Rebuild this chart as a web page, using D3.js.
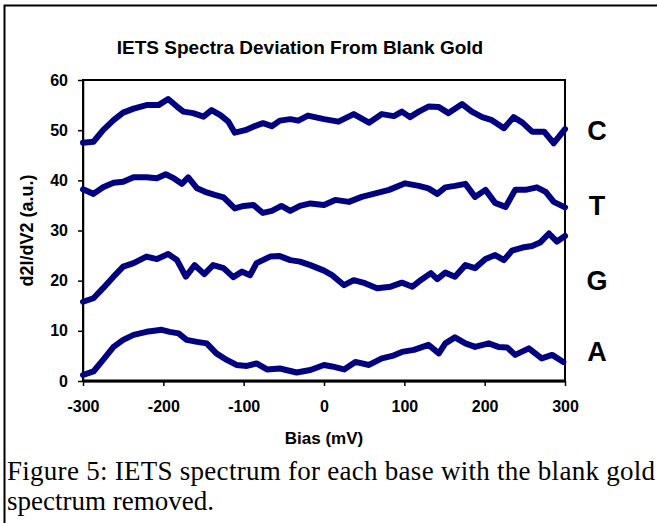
<!DOCTYPE html>
<html lang="en">
<head>
<meta charset="UTF-8">
<title>IETS Spectra</title>
<script src="https://cdn.jsdelivr.net/npm/d3@7"></script>
<style>
body {
	margin: 0;
	background: #fff;
}
svg {
	display: block;
}
.axis text {
	font-family: "Liberation Sans", Arial, sans-serif;
	font-weight: bold;
	font-size: 16px;
	fill: #000;
}
.axis line, .axis path {
	stroke: #000;
	stroke-width: 1.5px;
}
.curve {
	fill: none;
	stroke: #000080;
	stroke-width: 6px;
	stroke-linejoin: round;
	stroke-linecap: round;
}
.bold {
	font-family: "Liberation Sans", Arial, sans-serif;
	font-weight: bold;
}
.caption {
	font-family: "Liberation Serif", "Times New Roman", serif;
	font-size: 27px;
}
</style>
</head>
<body>
<svg width="657" height="523"></svg>
<script>
// values: [bias (mV), d2I/dV2 (a.u.)]
var curveC = [[-300,47.5],[-287,47.7],[-275,50.0],[-262,52.0],[-250,53.5],[-237,54.3],[-221,55.0],[-206,55.0],[-194,56.2],[-183,54.7],
	[-175,53.7],[-163,53.4],[-150,52.7],[-140,54.0],[-129,53.0],[-119,51.7],[-111,49.5],[-98,50.0],[-88,50.7],[-76,51.4],
	[-65,50.8],[-55,51.9],[-42,52.2],[-32,51.9],[-20,52.9],[0,52.2],[18,51.7],[37,53.2],[56,51.5],[72,53.2],
	[87,52.8],[97,53.7],[107,52.6],[118,53.7],[130,54.7],[143,54.6],[155,53.4],[172,55.2],[184,53.7],[197,52.6],
	[209,52.0],[224,50.4],[236,52.6],[247,51.5],[259,49.7],[274,49.7],[286,47.4],[300,50.2]];

var curveT = [[-300,38.2],[-287,37.3],[-275,38.6],[-262,39.5],[-250,39.7],[-237,40.6],[-221,40.6],[-208,40.4],[-197,41.2],[-188,40.5],
	[-177,39.3],[-169,40.6],[-158,38.4],[-148,37.7],[-136,37.1],[-125,36.6],[-111,34.4],[-100,34.9],[-88,35.1],[-76,33.5],
	[-65,33.9],[-53,34.9],[-42,33.9],[-30,34.9],[-17,35.4],[0,35.1],[14,36.1],[31,35.7],[47,36.7],[64,37.4],
	[81,38.1],[101,39.4],[118,38.9],[130,38.4],[141,37.3],[151,38.6],[163,38.9],[176,39.3],[188,36.7],[201,38.1],
	[213,35.5],[226,34.7],[238,38.1],[251,38.1],[265,38.6],[276,37.7],[286,35.7],[300,34.6]];

var curveG = [[-300,15.8],[-287,16.5],[-275,18.5],[-262,20.8],[-250,22.8],[-237,23.5],[-221,24.8],[-208,24.3],[-194,25.3],[-183,24.1],
	[-172,20.8],[-161,23.1],[-149,21.3],[-138,23.1],[-125,22.5],[-113,20.7],[-102,21.8],[-92,21.1],[-84,23.5],[-67,24.8],
	[-55,24.9],[-42,24.1],[-30,23.8],[-17,23.1],[0,22.0],[10,21.1],[25,19.1],[37,20.1],[51,19.5],[66,18.5],
	[83,18.8],[97,19.6],[110,18.8],[122,20.3],[133,21.5],[141,20.3],[151,21.6],[163,20.8],[176,23.1],[188,22.5],
	[201,24.3],[213,25.1],[224,24.1],[234,26.0],[247,26.6],[259,26.9],[269,27.6],[280,29.4],[290,27.8],[300,28.9]];

var curveA = [[-300,1.2],[-287,1.9],[-275,4.2],[-262,6.8],[-250,8.2],[-237,9.2],[-221,9.8],[-202,10.2],[-192,9.8],[-181,9.5],
	[-171,8.2],[-158,7.8],[-146,7.5],[-134,5.5],[-121,4.2],[-109,3.2],[-96,3.0],[-84,3.5],[-71,2.3],[-55,2.5],
	[-34,1.7],[-17,2.2],[0,3.2],[10,2.9],[25,2.3],[39,3.8],[56,3.2],[72,4.5],[85,5.0],[97,5.8],
	[112,6.2],[130,7.2],[143,5.5],[151,7.5],[163,8.7],[176,7.5],[188,6.8],[205,7.5],[217,6.8],[228,6.7],
	[238,5.2],[255,6.5],[271,4.5],[284,5.2],[298,3.8]];

var bases = ["C", "T", "G", "A"];
var baseLevels = [50, 35, 20, 6];
var xTicks = [-300, -200, -100, 0, 100, 200, 300];
var yTicks = [0, 10, 20, 30, 40, 50, 60];
var title = "IETS Spectra Deviation From Blank Gold";
var xTitle = "Bias (mV)";
var yTitle = "d2I/dV2 (a.u.)";
var captionLines = ["Figure 5: IETS spectrum for each base with the blank gold", "spectrum removed."];

var svg = d3.select("svg"),
	margin = {top: 80, right: 92, bottom: 142, left: 83},
	width = +svg.attr("width") - margin.left - margin.right,
	height = +svg.attr("height") - margin.top - margin.bottom;

// page frame (left and top edges of the figure box)
svg.append("path")
	.attr("d", "M4.5,523V5.5H657")
	.attr("fill", "none")
	.attr("stroke", "#000")
	.attr("stroke-width", 2);

var x = d3.scaleLinear().domain([-300, 300]).range([0, width]);
var y = d3.scaleLinear().domain([0, 60]).range([height, 0]);

var g = svg.append("g").attr("transform", "translate(" + margin.left + "," + margin.top + ")");

svg.append("text")
	.attr("class", "bold")
	.attr("x", 300)
	.attr("y", 54)
	.attr("text-anchor", "middle")
	.style("font-size", "19px")
	.text(title);

// plain hyphen minus like the original
var fmt = function(d) { return String(d); };

g.append("g")
	.attr("class", "axis axis--x")
	.attr("transform", "translate(0," + height + ")")
	.call(d3.axisBottom(x).tickValues(xTicks).tickFormat(fmt).tickSize(5).tickPadding(15).tickSizeOuter(0));

g.append("g")
	.attr("class", "axis axis--y")
	.call(d3.axisLeft(y).tickValues(yTicks).tickFormat(fmt).tickSize(5).tickPadding(10).tickSizeOuter(0));

// plot area border
g.append("rect")
	.attr("width", width)
	.attr("height", height)
	.attr("fill", "none")
	.attr("stroke", "#000")
	.attr("stroke-width", 2);
g.append("line")
	.attr("x1", 0).attr("x2", width)
	.attr("y1", height).attr("y2", height)
	.attr("stroke", "#000")
	.attr("stroke-width", 3);

var line = d3.line()
	.x(function(d) { return x(d[0]); })
	.y(function(d) { return y(d[1]); });

[curveC, curveT, curveG, curveA].forEach(function(c) {
	g.append("path")
		.datum(c)
		.attr("class", "curve")
		.attr("d", line);
});

g.selectAll(".base")
	.data(bases)
	.enter().append("text")
	.attr("class", "bold base")
	.attr("x", width + 32)
	.attr("y", function(d, i) { return y(baseLevels[i]); })
	.attr("dy", "0.36em")
	.attr("text-anchor", "middle")
	.style("font-size", "27px")
	.text(function(d) { return d; });

svg.append("text")
	.attr("class", "bold")
	.attr("x", margin.left + width / 2)
	.attr("y", 444)
	.attr("text-anchor", "middle")
	.style("font-size", "17px")
	.text(xTitle);

svg.append("text")
	.attr("class", "bold")
	.attr("transform", "translate(33," + (margin.top + height / 2) + ") rotate(-90)")
	.attr("text-anchor", "middle")
	.style("font-size", "18px")
	.text(yTitle);

svg.append("text")
	.attr("class", "caption")
	.attr("x", 7)
	.attr("y", 480)
	.attr("textLength", 648)
	.attr("lengthAdjust", "spacing")
	.text(captionLines[0]);

svg.append("text")
	.attr("class", "caption")
	.attr("x", 7)
	.attr("y", 510)
	.text(captionLines[1]);
</script>
</body>
</html>
